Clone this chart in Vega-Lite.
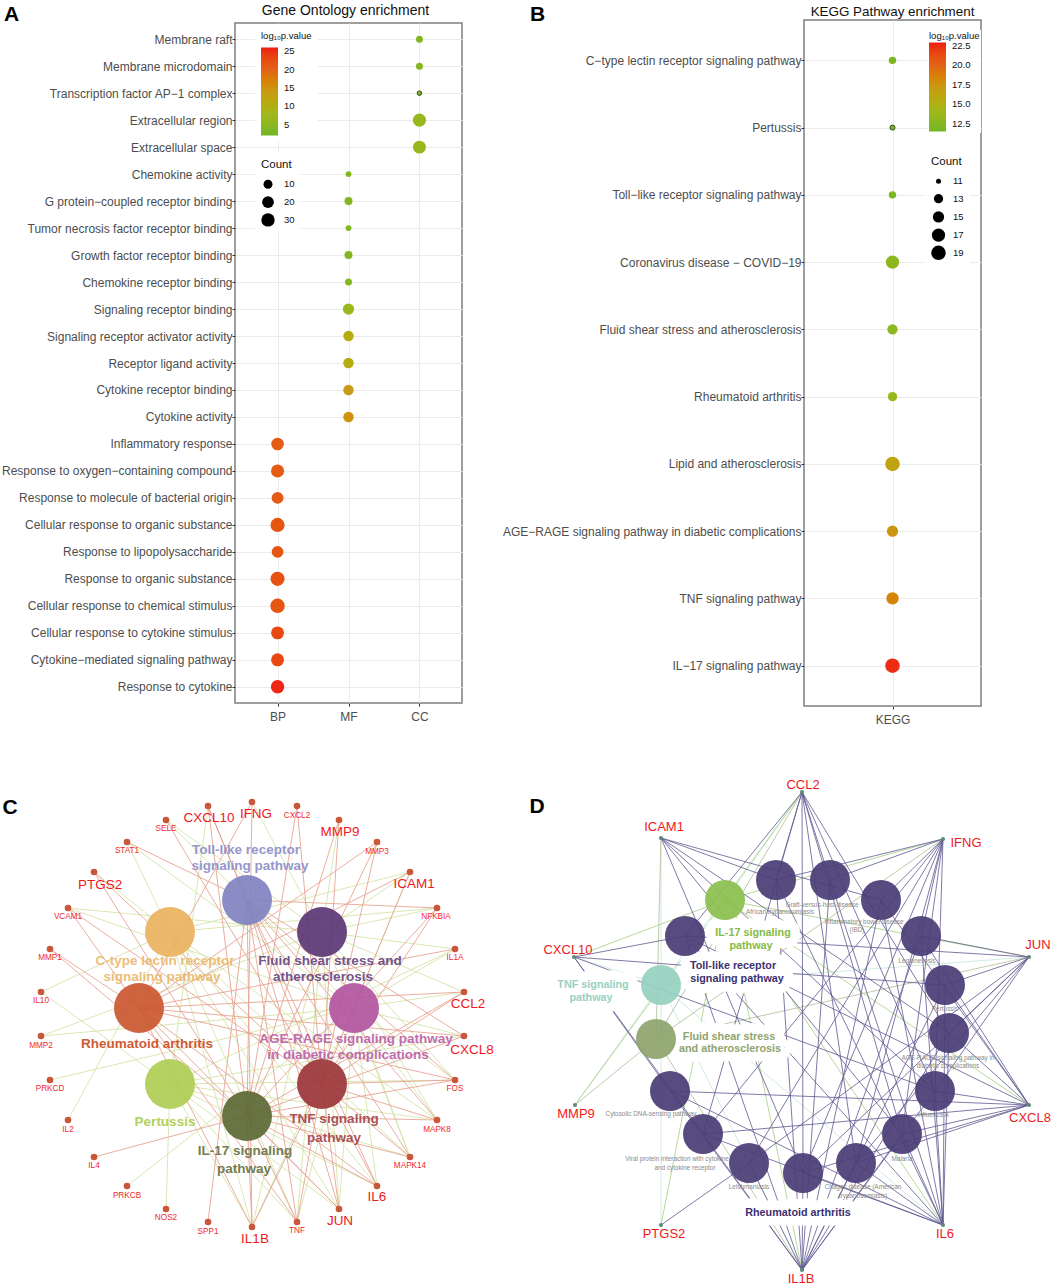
{
"$schema":"https://vega.github.io/schema/vega-lite/v6.json",
"padding":0,
"background":"white",
"spacing":46,
"align":"none",
"resolve":{"scale":{"color":"independent","size":"independent"},"legend":{"color":"independent","size":"independent"}},
"config":{"font":"Liberation Sans","legend":{"labelFont":"Liberation Sans","titleFont":"Liberation Sans"}},
"datasets":{
"go":[
{"t":"Membrane raft","c":"CC","n":8,"p":4},
{"t":"Membrane microdomain","c":"CC","n":8,"p":4},
{"t":"Transcription factor AP−1 complex","c":"CC","n":6,"p":3.5},
{"t":"Extracellular region","c":"CC","n":28,"p":6.5},
{"t":"Extracellular space","c":"CC","n":27,"p":6.5},
{"t":"Chemokine activity","c":"MF","n":7,"p":4},
{"t":"G protein−coupled receptor binding","c":"MF","n":9,"p":4},
{"t":"Tumor necrosis factor receptor binding","c":"MF","n":7,"p":4},
{"t":"Growth factor receptor binding","c":"MF","n":9,"p":4},
{"t":"Chemokine receptor binding","c":"MF","n":8,"p":4},
{"t":"Signaling receptor binding","c":"MF","n":18,"p":7},
{"t":"Signaling receptor activator activity","c":"MF","n":15,"p":10.5},
{"t":"Receptor ligand activity","c":"MF","n":15,"p":10.5},
{"t":"Cytokine receptor binding","c":"MF","n":15,"p":14},
{"t":"Cytokine activity","c":"MF","n":15,"p":15},
{"t":"Inflammatory response","c":"BP","n":25,"p":21},
{"t":"Response to oxygen−containing compound","c":"BP","n":28,"p":21},
{"t":"Response to molecule of bacterial origin","c":"BP","n":21,"p":21},
{"t":"Cellular response to organic substance","c":"BP","n":32,"p":21.5},
{"t":"Response to lipopolysaccharide","c":"BP","n":20,"p":21.5},
{"t":"Response to organic substance","c":"BP","n":32,"p":22},
{"t":"Cellular response to chemical stimulus","c":"BP","n":33,"p":21.5},
{"t":"Cellular response to cytokine stimulus","c":"BP","n":27,"p":23},
{"t":"Cytokine−mediated signaling pathway","c":"BP","n":27,"p":23},
{"t":"Response to cytokine","c":"BP","n":30,"p":25.5}
],
"kegg":[
{"t":"C−type lectin receptor signaling pathway","c":"KEGG","n":12,"p":12},
{"t":"Pertussis","c":"KEGG","n":11,"p":12},
{"t":"Toll−like receptor signaling pathway","c":"KEGG","n":12,"p":12},
{"t":"Coronavirus disease − COVID−19","c":"KEGG","n":17,"p":13},
{"t":"Fluid shear stress and atherosclerosis","c":"KEGG","n":14,"p":13},
{"t":"Rheumatoid arthritis","c":"KEGG","n":13,"p":13.5},
{"t":"Lipid and atherosclerosis","c":"KEGG","n":19,"p":16.5},
{"t":"AGE−RAGE signaling pathway in diabetic complications","c":"KEGG","n":15,"p":17.5},
{"t":"TNF signaling pathway","c":"KEGG","n":16,"p":18.5},
{"t":"IL−17 signaling pathway","c":"KEGG","n":19,"p":22.5}
],
"cGenes":[
{"k":"CXCL10","x":208,"y":804},{"k":"IFNG","x":252,"y":800},{"k":"CXCL2","x":297,"y":804},{"k":"MMP9","x":339,"y":818},{"k":"MMP3","x":377,"y":840},{"k":"ICAM1","x":410,"y":870},{"k":"NFKBIA","x":437,"y":906},{"k":"IL1A","x":455,"y":947},{"k":"CCL2","x":464,"y":990},{"k":"CXCL8","x":464,"y":1034},{"k":"FOS","x":455,"y":1078},{"k":"MAPK8","x":437,"y":1118},{"k":"MAPK14","x":410,"y":1155},{"k":"IL6","x":377,"y":1184},{"k":"JUN","x":339,"y":1207},{"k":"TNF","x":297,"y":1220},{"k":"IL1B","x":252,"y":1225},{"k":"SPP1","x":208,"y":1220},{"k":"NOS2","x":166,"y":1207},{"k":"PRKCB","x":127,"y":1184},{"k":"IL4","x":94,"y":1155},{"k":"IL2","x":68,"y":1118},{"k":"PRKCD","x":50,"y":1078},{"k":"MMP2","x":41,"y":1034},{"k":"IL10","x":41,"y":990},{"k":"MMP1","x":50,"y":947},{"k":"VCAM1","x":68,"y":906},{"k":"PTGS2","x":94,"y":870},{"k":"STAT1","x":127,"y":840},{"k":"SELE","x":166,"y":818}
],
"cPaths":[
{"k":"Toll","x":247,"y":898},{"k":"Fluid","x":322,"y":930},{"k":"AGE","x":354,"y":1006},{"k":"TNFp","x":322,"y":1082},{"k":"IL17","x":247,"y":1114},{"k":"Pert","x":170,"y":1082},{"k":"RA","x":139,"y":1006},{"k":"CType","x":170,"y":930}
],
"cLabels":[
{"s":"CXCL10","x":209,"y":816,"r":"big"},{"s":"IFNG","x":256,"y":812,"r":"big"},{"s":"CXCL2","x":297,"y":814,"r":"small"},{"s":"MMP9","x":340,"y":830,"r":"big"},{"s":"MMP3","x":377,"y":850,"r":"small"},{"s":"ICAM1","x":414,"y":882,"r":"big"},{"s":"NFKBIA","x":436,"y":915,"r":"small"},{"s":"IL1A","x":455,"y":956,"r":"small"},{"s":"CCL2","x":468,"y":1002,"r":"big"},{"s":"CXCL8","x":472,"y":1048,"r":"big"},{"s":"FOS","x":455,"y":1087,"r":"small"},{"s":"MAPK8","x":437,"y":1128,"r":"small"},{"s":"MAPK14","x":410,"y":1164,"r":"small"},{"s":"IL6","x":377,"y":1195,"r":"big"},{"s":"JUN","x":340,"y":1219,"r":"big"},{"s":"TNF","x":297,"y":1229,"r":"small"},{"s":"IL1B","x":255,"y":1237,"r":"big"},{"s":"SPP1","x":208,"y":1230,"r":"small"},{"s":"NOS2","x":166,"y":1216,"r":"small"},{"s":"PRKCB","x":127,"y":1194,"r":"small"},{"s":"IL4","x":94,"y":1164,"r":"small"},{"s":"IL2","x":68,"y":1128,"r":"small"},{"s":"PRKCD","x":50,"y":1087,"r":"small"},{"s":"MMP2","x":41,"y":1044,"r":"small"},{"s":"IL10","x":41,"y":999,"r":"small"},{"s":"MMP1","x":50,"y":956,"r":"small"},{"s":"VCAM1","x":68,"y":915,"r":"small"},{"s":"PTGS2","x":100,"y":883,"r":"big"},{"s":"STAT1","x":127,"y":849,"r":"small"},{"s":"SELE","x":166,"y":827,"r":"small"},
{"s":"C","x":10,"y":806,"r":"panel"},
{"s":"Toll-like receptor","x":246,"y":848,"r":"path","k":"Toll"},{"s":"signaling pathway","x":250,"y":864,"r":"path","k":"Toll"},
{"s":"Fluid shear stress and","x":330,"y":959,"r":"path","k":"Fluid"},{"s":"atherosclerosis","x":323,"y":975,"r":"path","k":"Fluid"},
{"s":"AGE-RAGE signaling pathway","x":356,"y":1037,"r":"path","k":"AGE"},{"s":"in diabetic complications","x":348,"y":1053,"r":"path","k":"AGE"},
{"s":"TNF signaling","x":334,"y":1117,"r":"path","k":"TNFp"},{"s":"pathway","x":334,"y":1136,"r":"path","k":"TNFp"},
{"s":"IL-17 signaling","x":245,"y":1149,"r":"path","k":"IL17"},{"s":"pathway","x":244,"y":1167,"r":"path","k":"IL17"},
{"s":"Pertussis","x":165,"y":1120,"r":"path","k":"Pert"},
{"s":"Rheumatoid arthritis","x":147,"y":1042,"r":"path","k":"RA"},
{"s":"C-type lectin receptor","x":165,"y":959,"r":"path","k":"CType"},{"s":"signaling pathway","x":162,"y":975,"r":"path","k":"CType"}
],
"cEdges":[
{"g":"CXCL10","p":"Pert"},{"g":"CXCL8","p":"Pert"},{"g":"IL10","p":"Pert"},{"g":"IL1A","p":"Pert"},{"g":"IL1B","p":"Pert"},{"g":"IL6","p":"Pert"},{"g":"JUN","p":"Pert"},{"g":"FOS","p":"Pert"},{"g":"MAPK14","p":"Pert"},{"g":"MAPK8","p":"Pert"},{"g":"NOS2","p":"Pert"},{"g":"TNF","p":"Pert"},
{"g":"IL2","p":"CType"},{"g":"IL10","p":"CType"},{"g":"IL6","p":"CType"},{"g":"IL1B","p":"CType"},{"g":"TNF","p":"CType"},{"g":"JUN","p":"CType"},{"g":"MAPK8","p":"CType"},{"g":"MAPK14","p":"CType"},{"g":"NFKBIA","p":"CType"},{"g":"PTGS2","p":"CType"},{"g":"STAT1","p":"CType"},{"g":"ICAM1","p":"CType"},
{"g":"CCL2","p":"Fluid"},{"g":"ICAM1","p":"Fluid"},{"g":"IL1A","p":"Fluid"},{"g":"IL1B","p":"Fluid"},{"g":"TNF","p":"Fluid"},{"g":"JUN","p":"Fluid"},{"g":"FOS","p":"Fluid"},{"g":"MMP2","p":"Fluid"},{"g":"MMP9","p":"Fluid"},{"g":"NFKBIA","p":"Fluid"},{"g":"SELE","p":"Fluid"},{"g":"VCAM1","p":"Fluid"},{"g":"IFNG","p":"Fluid"},{"g":"MAPK8","p":"Fluid"},{"g":"MAPK14","p":"Fluid"},
{"g":"CCL2","p":"AGE"},{"g":"CXCL8","p":"AGE"},{"g":"ICAM1","p":"AGE"},{"g":"IL1A","p":"AGE"},{"g":"IL1B","p":"AGE"},{"g":"IL6","p":"AGE"},{"g":"TNF","p":"AGE"},{"g":"JUN","p":"AGE"},{"g":"FOS","p":"AGE"},{"g":"MMP2","p":"AGE"},{"g":"VCAM1","p":"AGE"},{"g":"SELE","p":"AGE"},{"g":"STAT1","p":"AGE"},{"g":"PRKCD","p":"AGE"},{"g":"PRKCB","p":"AGE"},{"g":"MAPK8","p":"AGE"},{"g":"MAPK14","p":"AGE"},
{"g":"CXCL10","p":"Toll"},{"g":"CXCL8","p":"Toll"},{"g":"IL6","p":"Toll"},{"g":"IL1B","p":"Toll"},{"g":"TNF","p":"Toll"},{"g":"FOS","p":"Toll"},{"g":"JUN","p":"Toll"},{"g":"MAPK8","p":"Toll"},{"g":"MAPK14","p":"Toll"},{"g":"NFKBIA","p":"Toll"},{"g":"STAT1","p":"Toll"},{"g":"SPP1","p":"Toll"},
{"g":"CCL2","p":"RA"},{"g":"CXCL8","p":"RA"},{"g":"ICAM1","p":"RA"},{"g":"IL1A","p":"RA"},{"g":"IL1B","p":"RA"},{"g":"IL6","p":"RA"},{"g":"TNF","p":"RA"},{"g":"JUN","p":"RA"},{"g":"FOS","p":"RA"},{"g":"MMP1","p":"RA"},{"g":"MMP3","p":"RA"},{"g":"VCAM1","p":"RA"},{"g":"IFNG","p":"RA"},
{"g":"CCL2","p":"TNFp"},{"g":"CXCL10","p":"TNFp"},{"g":"CXCL2","p":"TNFp"},{"g":"FOS","p":"TNFp"},{"g":"ICAM1","p":"TNFp"},{"g":"IL1B","p":"TNFp"},{"g":"IL6","p":"TNFp"},{"g":"JUN","p":"TNFp"},{"g":"MAPK14","p":"TNFp"},{"g":"MAPK8","p":"TNFp"},{"g":"MMP3","p":"TNFp"},{"g":"MMP9","p":"TNFp"},{"g":"NFKBIA","p":"TNFp"},{"g":"PTGS2","p":"TNFp"},{"g":"SELE","p":"TNFp"},{"g":"TNF","p":"TNFp"},{"g":"VCAM1","p":"TNFp"},
{"g":"CCL2","p":"IL17"},{"g":"CXCL10","p":"IL17"},{"g":"CXCL2","p":"IL17"},{"g":"CXCL8","p":"IL17"},{"g":"FOS","p":"IL17"},{"g":"IFNG","p":"IL17"},{"g":"IL1B","p":"IL17"},{"g":"IL4","p":"IL17"},{"g":"IL6","p":"IL17"},{"g":"JUN","p":"IL17"},{"g":"MAPK14","p":"IL17"},{"g":"MAPK8","p":"IL17"},{"g":"MMP1","p":"IL17"},{"g":"MMP3","p":"IL17"},{"g":"MMP9","p":"IL17"},{"g":"NFKBIA","p":"IL17"},{"g":"PTGS2","p":"IL17"},{"g":"TNF","p":"IL17"}
],
"dGenes":[
{"k":"CCL2","x":802,"y":790},{"k":"ICAM1","x":661,"y":836},{"k":"IFNG","x":943,"y":837},{"k":"CXCL10","x":574,"y":955},{"k":"JUN","x":1029,"y":955},{"k":"MMP9","x":575,"y":1103},{"k":"CXCL8","x":1029,"y":1103},{"k":"PTGS2","x":661,"y":1223},{"k":"IL6","x":943,"y":1223},{"k":"IL1B","x":802,"y":1268}
],
"dPaths":[
{"k":"African","x":776,"y":878},{"k":"Graft","x":830,"y":878},{"k":"IBD","x":881,"y":898},{"k":"Legion","x":921,"y":934},{"k":"Pert","x":945,"y":983},{"k":"AGE","x":949,"y":1031},{"k":"Flu","x":935,"y":1089},{"k":"Malaria","x":902,"y":1132},{"k":"Chagas","x":856,"y":1161},{"k":"RA","x":803,"y":1171},{"k":"Leish","x":749,"y":1161},{"k":"Viral","x":703,"y":1132},{"k":"Cyto","x":670,"y":1089},{"k":"Fluid","x":656,"y":1037},{"k":"TNFp","x":661,"y":983},{"k":"Toll","x":685,"y":934},{"k":"IL17","x":725,"y":898}
],
"dLabels":[
{"s":"CCL2","x":803,"y":783,"r":"big"},{"s":"ICAM1","x":664,"y":825,"r":"big"},{"s":"IFNG","x":966,"y":841,"r":"big"},{"s":"CXCL10","x":568,"y":948,"r":"big"},{"s":"JUN","x":1038,"y":943,"r":"big"},{"s":"MMP9","x":576,"y":1112,"r":"big"},{"s":"CXCL8","x":1030,"y":1116,"r":"big"},{"s":"PTGS2","x":664,"y":1232,"r":"big"},{"s":"IL6","x":945,"y":1232,"r":"big"},{"s":"IL1B","x":801,"y":1277,"r":"big"},
{"s":"D","x":537,"y":805,"r":"panel"},
{"s":"African trypanosomiasis","x":780,"y":910,"r":"grey"},
{"s":"Graft-versus-host disease","x":822,"y":903,"r":"grey"},
{"s":"Inflammatory bowel disease","x":864,"y":920,"r":"grey"},{"s":"(IBD)","x":857,"y":928,"r":"grey"},
{"s":"Legionellosis","x":917,"y":959,"r":"grey"},
{"s":"Pertussis","x":945,"y":1007,"r":"grey"},
{"s":"AGE-RAGE signaling pathway in","x":948,"y":1056,"r":"grey"},{"s":"diabetic complications","x":948,"y":1064,"r":"grey"},
{"s":"Influenza A","x":933,"y":1113,"r":"grey"},
{"s":"Malaria","x":902,"y":1157,"r":"grey"},
{"s":"Chagas disease (American","x":863,"y":1185,"r":"grey"},{"s":"trypanosomiasis)","x":863,"y":1194,"r":"grey"},
{"s":"Leishmaniasis","x":749,"y":1185,"r":"grey"},
{"s":"Viral protein interaction with cytokine","x":677,"y":1157,"r":"grey"},{"s":"and cytokine receptor","x":685,"y":1166,"r":"grey"},
{"s":"Cytosolic DNA-sensing pathway","x":651,"y":1112,"r":"grey"},
{"s":"Rheumatoid arthritis","x":798,"y":1211,"r":"path","k":"RA"},
{"s":"Fluid shear stress","x":729,"y":1035,"r":"path","k":"Fluid"},{"s":"and atherosclerosis","x":730,"y":1047,"r":"path","k":"Fluid"},
{"s":"TNF signaling","x":593,"y":983,"r":"path","k":"TNFp"},{"s":"pathway","x":591,"y":996,"r":"path","k":"TNFp"},
{"s":"Toll-like receptor","x":733,"y":964,"r":"path","k":"Toll"},{"s":"signaling pathway","x":737,"y":977,"r":"path","k":"Toll"},
{"s":"IL-17 signaling","x":753,"y":931,"r":"path","k":"IL17"},{"s":"pathway","x":751,"y":944,"r":"path","k":"IL17"}
],
"dEdges":[
{"g":"ICAM1","p":"TNFp"},{"g":"CCL2","p":"TNFp"},{"g":"CXCL10","p":"TNFp"},{"g":"IL1B","p":"TNFp"},{"g":"IL6","p":"TNFp"},{"g":"JUN","p":"TNFp"},{"g":"MMP9","p":"TNFp"},{"g":"PTGS2","p":"TNFp"},
{"g":"CCL2","p":"Fluid"},{"g":"ICAM1","p":"Fluid"},{"g":"IFNG","p":"Fluid"},{"g":"IL1B","p":"Fluid"},{"g":"JUN","p":"Fluid"},{"g":"MMP9","p":"Fluid"},
{"g":"CCL2","p":"IL17"},{"g":"CXCL10","p":"IL17"},{"g":"CXCL8","p":"IL17"},{"g":"IFNG","p":"IL17"},{"g":"IL1B","p":"IL17"},{"g":"IL6","p":"IL17"},{"g":"JUN","p":"IL17"},{"g":"MMP9","p":"IL17"},{"g":"PTGS2","p":"IL17"},
{"g":"CXCL10","p":"Toll"},{"g":"CXCL8","p":"Toll"},{"g":"IL1B","p":"Toll"},{"g":"IL6","p":"Toll"},{"g":"JUN","p":"Toll"},{"g":"CCL2","p":"Toll"},
{"g":"ICAM1","p":"African"},{"g":"IFNG","p":"African"},{"g":"IL1B","p":"African"},{"g":"IL6","p":"African"},{"g":"CCL2","p":"African"},
{"g":"IFNG","p":"Graft"},{"g":"IL1B","p":"Graft"},{"g":"IL6","p":"Graft"},{"g":"CCL2","p":"Graft"},
{"g":"IFNG","p":"IBD"},{"g":"IL1B","p":"IBD"},{"g":"IL6","p":"IBD"},{"g":"CXCL8","p":"IBD"},{"g":"ICAM1","p":"IBD"},
{"g":"CXCL8","p":"Legion"},{"g":"IL1B","p":"Legion"},{"g":"IL6","p":"Legion"},{"g":"JUN","p":"Legion"},{"g":"IFNG","p":"Legion"},
{"g":"IL1B","p":"Pert"},{"g":"IL6","p":"Pert"},{"g":"CXCL8","p":"Pert"},{"g":"JUN","p":"Pert"},{"g":"CXCL10","p":"Pert"},
{"g":"CCL2","p":"AGE"},{"g":"CXCL8","p":"AGE"},{"g":"ICAM1","p":"AGE"},{"g":"IL1B","p":"AGE"},{"g":"IL6","p":"AGE"},{"g":"JUN","p":"AGE"},
{"g":"CCL2","p":"Flu"},{"g":"CXCL10","p":"Flu"},{"g":"CXCL8","p":"Flu"},{"g":"ICAM1","p":"Flu"},{"g":"IFNG","p":"Flu"},{"g":"IL1B","p":"Flu"},{"g":"IL6","p":"Flu"},{"g":"JUN","p":"Flu"},
{"g":"CCL2","p":"Malaria"},{"g":"CXCL8","p":"Malaria"},{"g":"ICAM1","p":"Malaria"},{"g":"IFNG","p":"Malaria"},{"g":"IL1B","p":"Malaria"},{"g":"IL6","p":"Malaria"},
{"g":"CCL2","p":"Chagas"},{"g":"CXCL8","p":"Chagas"},{"g":"IFNG","p":"Chagas"},{"g":"IL1B","p":"Chagas"},{"g":"IL6","p":"Chagas"},{"g":"JUN","p":"Chagas"},
{"g":"CCL2","p":"RA"},{"g":"CXCL8","p":"RA"},{"g":"ICAM1","p":"RA"},{"g":"IFNG","p":"RA"},{"g":"IL1B","p":"RA"},{"g":"IL6","p":"RA"},{"g":"JUN","p":"RA"},
{"g":"IFNG","p":"Leish"},{"g":"IL1B","p":"Leish"},{"g":"JUN","p":"Leish"},{"g":"PTGS2","p":"Leish"},
{"g":"CCL2","p":"Viral"},{"g":"CXCL10","p":"Viral"},{"g":"CXCL8","p":"Viral"},{"g":"IFNG","p":"Viral"},{"g":"IL1B","p":"Viral"},{"g":"IL6","p":"Viral"},
{"g":"CXCL10","p":"Cyto"},{"g":"CXCL8","p":"Cyto"},{"g":"IL1B","p":"Cyto"},{"g":"IL6","p":"Cyto"}
]
},
"vconcat":[
{"spacing":0,"align":"none",
"resolve":{"scale":{"color":"independent","size":"independent"},"legend":{"color":"independent","size":"independent"}},
"hconcat":[
{"spacing":0,"vconcat":[
{"width":10,"height":1,"data":{"values":[{"a":1}]},"view":{"stroke":null},"mark":{"type":"rule","opacity":0},"encoding":{}},
{"width":227,"height":680,"data":{"name":"go"},
"title":{"text":"Gene Ontology enrichment","fontSize":14,"fontWeight":"normal","font":"Liberation Sans","color":"#111","offset":-15,"dx":-3},
"view":{"stroke":"#7f7f7f","strokeWidth":1.5},
"mark":{"type":"circle","opacity":1,"strokeWidth":1},
"encoding":{
"x":{"field":"c","type":"nominal","scale":{"type":"point","padding":0.6,"domain":["BP","MF","CC"]},"axis":{"title":null,"labelAngle":0,"labelFontSize":12,"labelColor":"#4d4d4d","tickSize":3,"tickColor":"#333","labelPadding":5,"grid":true,"gridColor":"#ebebeb","domain":false}},
"y":{"field":"t","type":"nominal","sort":null,"scale":{"type":"point","padding":0.6},"axis":{"title":"A","titleX":-224,"titleY":-3,"titleBaseline":"alphabetic","titleAngle":0,"titleFontSize":21,"titleFontWeight":"bold","titleColor":"#000","labelFontSize":12,"labelColor":"#4d4d4d","labelLimit":300,"tickSize":3,"tickColor":"#333","labelPadding":0,"grid":true,"gridColor":"#ebebeb","domain":false,"minExtent":234,"maxExtent":234}},
"color":{"field":"p","type":"quantitative","scale":{"domain":[2,8,14,20,26],"range":["#72b626","#a3b81c","#c99a16","#e36217","#ee1c14"]},"legend":{"orient":"none","legendX":20,"legendY":24,"title":"log₁₀p.value","titleFontSize":9.5,"titleFontWeight":"normal","titleColor":"#111","titlePadding":7,"gradientLength":88,"gradientThickness":17,"values":[5,10,15,20,25],"labelFontSize":9.5,"labelColor":"#111","labelOffset":6,"fillColor":"white","padding":6}},
"size":{"field":"n","type":"quantitative","scale":{"domain":[6,8,10,20,30,35],"range":[20,49,81,137,180,230]},"legend":{"orient":"none","legendX":20,"legendY":152,"title":"Count","titleFontSize":11.5,"titleFontWeight":"normal","titleColor":"#111","titlePadding":9,"values":[10,20,30],"symbolFillColor":"#000","symbolStrokeColor":"transparent","symbolStrokeWidth":0,"symbolOpacity":1,"labelFontSize":9.5,"labelColor":"#111","labelOffset":9,"rowPadding":2.7,"gridAlign":"all","fillColor":"white","padding":6}},
"stroke":{"condition":{"test":"datum.n==6","value":"#2f4f12"},"value":"transparent"}
}}
]},
{"spacing":0,"vconcat":[
{"width":10,"height":1,"data":{"values":[{"a":1}]},"view":{"stroke":null},"mark":{"type":"rule","opacity":0},"encoding":{}},
{"width":177,"height":686,"data":{"name":"kegg"},
"title":{"text":"KEGG Pathway enrichment","fontSize":13.4,"fontWeight":"normal","font":"Liberation Sans","color":"#111","offset":-15.6},
"view":{"stroke":"#7f7f7f","strokeWidth":1.5},
"mark":{"type":"circle","opacity":1,"strokeWidth":1},
"encoding":{
"x":{"field":"c","type":"nominal","scale":{"type":"point","padding":0.6},"axis":{"title":null,"labelAngle":0,"labelFontSize":12,"labelColor":"#4d4d4d","tickSize":3,"tickColor":"#333","labelPadding":5,"grid":true,"gridColor":"#ebebeb","domain":false}},
"y":{"field":"t","type":"nominal","sort":null,"scale":{"type":"point","padding":0.6},"axis":{"title":"B","titleX":-267,"titleY":0,"titleBaseline":"alphabetic","titleAngle":0,"titleFontSize":21,"titleFontWeight":"bold","titleColor":"#000","labelFontSize":12,"labelColor":"#4d4d4d","labelLimit":320,"tickSize":3,"tickColor":"#333","labelPadding":0,"grid":true,"gridColor":"#ebebeb","domain":false,"minExtent":340,"maxExtent":340}},
"color":{"field":"p","type":"quantitative","scale":{"domain":[11.5,14.3,17.2,20,22.9],"range":["#72b626","#a3b81c","#c99a16","#e36217","#ee1c14"]},"legend":{"orient":"none","legendX":124,"legendY":29,"title":"log₁₀p.value","titleFontSize":9.5,"titleFontWeight":"normal","titleColor":"#111","titlePadding":2,"gradientLength":89,"gradientThickness":17,"values":[12.5,15,17.5,20,22.5],"format":".1f","labelFontSize":9.5,"labelColor":"#111","labelOffset":6,"fillColor":"white","padding":1}},
"size":{"field":"n","type":"quantitative","scale":{"domain":[11,13,15,17,19],"range":[25,86,128,177,210]},"legend":{"orient":"none","legendX":121,"legendY":149,"title":"Count","titleFontSize":11.5,"titleFontWeight":"normal","titleColor":"#111","titlePadding":9,"values":[11,13,15,17,19],"symbolFillColor":"#000","symbolStrokeColor":"transparent","symbolStrokeWidth":0,"symbolOpacity":1,"labelFontSize":9.5,"labelColor":"#111","labelOffset":7,"rowPadding":2.2,"gridAlign":"all","fillColor":"white","padding":6}},
"stroke":{"condition":{"test":"datum.t=='Pertussis'","value":"#2f4f12"},"value":"transparent"}
}}
]}
]},
{"spacing":0,"align":"none",
"resolve":{"scale":{"color":"independent","size":"independent"}},
"hconcat":[
{"width":266,"height":514,"view":{"stroke":null},
"resolve":{"scale":{"color":"independent"}},
"layer":[
{"data":{"name":"cEdges"},
"transform":[{"lookup":"g","from":{"data":{"name":"cGenes"},"key":"k","fields":["x","y"]}},{"lookup":"p","from":{"data":{"name":"cPaths"},"key":"k","fields":["x","y"]},"as":["px","py"]}],
"mark":{"type":"rule","strokeWidth":1,"opacity":0.85},
"encoding":{
"x":{"field":"x","type":"quantitative","scale":{"domain":[235,501],"nice":false,"zero":false},"axis":null},
"y":{"field":"y","type":"quantitative","scale":{"domain":[1284,770],"nice":false,"zero":false},"axis":null},
"x2":{"field":"px"},"y2":{"field":"py"},
"color":{"field":"p","type":"nominal","legend":null,"scale":{"domain":["Toll","RA","TNFp","IL17","CType","Pert","Fluid","AGE"],"range":["#e6a08e","#e6a08e","#e6a08e","#e6a08e","#d3e3a6","#d3e3a6","#d3e3a6","#d3e3a6"]}}
}},
{"data":{"name":"cPaths"},
"mark":{"type":"circle","size":2500,"opacity":0.92},
"encoding":{
"x":{"field":"x","type":"quantitative"},"y":{"field":"y","type":"quantitative"},
"color":{"field":"k","type":"nominal","legend":null,"scale":{"domain":["Toll","Fluid","AGE","TNFp","IL17","Pert","RA","CType"],"range":["#7f82c0","#5b3675","#b2559f","#9c3639","#5c6934","#afcd55","#ca5730","#e9b25f"]}}
}},
{"data":{"name":"cGenes"},
"mark":{"type":"circle","size":44,"opacity":1,"color":"#c9583a"},
"encoding":{"x":{"field":"x","type":"quantitative"},"y":{"field":"y","type":"quantitative"}}},
{"data":{"name":"cLabels"},"transform":[{"filter":"datum.r=='big'"}],
"mark":{"type":"text","fontSize":13.5,"color":"#f0181c"},
"encoding":{"x":{"field":"x","type":"quantitative"},"y":{"field":"y","type":"quantitative"},"text":{"field":"s"}}},
{"data":{"name":"cLabels"},"transform":[{"filter":"datum.r=='small'"}],
"mark":{"type":"text","fontSize":8.2,"color":"#f0282c"},
"encoding":{"x":{"field":"x","type":"quantitative"},"y":{"field":"y","type":"quantitative"},"text":{"field":"s"}}},
{"data":{"name":"cLabels"},"transform":[{"filter":"datum.r=='panel'"}],
"mark":{"type":"text","fontSize":21,"fontWeight":"bold","color":"#000"},
"encoding":{"x":{"field":"x","type":"quantitative"},"y":{"field":"y","type":"quantitative"},"text":{"field":"s"}}},
{"data":{"name":"cLabels"},"transform":[{"filter":"datum.r=='path'"}],
"mark":{"type":"text","fontSize":13.5,"fontWeight":"bold","opacity":0.9},
"encoding":{"x":{"field":"x","type":"quantitative"},"y":{"field":"y","type":"quantitative"},"text":{"field":"s"},
"color":{"field":"k","type":"nominal","legend":null,"scale":{"domain":["Toll","Fluid","AGE","TNFp","IL17","Pert","RA","CType"],"range":["#8a8dc8","#65447f","#b95fa8","#a3444a","#66703f","#a9cc4c","#cc4a1c","#ebb86a"]}}
}}
]},
{"width":551,"height":514,"view":{"stroke":null},
"resolve":{"scale":{"color":"independent"}},
"layer":[
{"data":{"name":"dEdges"},
"transform":[{"lookup":"g","from":{"data":{"name":"dGenes"},"key":"k","fields":["x","y"]}},{"lookup":"p","from":{"data":{"name":"dPaths"},"key":"k","fields":["x","y"]},"as":["px","py"]}],
"mark":{"type":"rule","strokeWidth":0.8},
"encoding":{
"x":{"field":"x","type":"quantitative","scale":{"domain":[501,1052],"nice":false,"zero":false},"axis":null},
"y":{"field":"y","type":"quantitative","scale":{"domain":[1284,770],"nice":false,"zero":false},"axis":null},
"x2":{"field":"px"},"y2":{"field":"py"},
"color":{"field":"p","type":"nominal","legend":null,"scale":{"domain":["IL17","TNFp","Fluid","African","Graft","IBD","Legion","Pert","AGE","Flu","Malaria","Chagas","RA","Leish","Viral","Cyto","Toll"],"range":["#a4cf80","#c4e4da","#adbd96","#5f5890","#5f5890","#5f5890","#5f5890","#5f5890","#5f5890","#5f5890","#5f5890","#5f5890","#5f5890","#5f5890","#5f5890","#5f5890","#5f5890"]}}
}},
{"data":{"name":"dLabels"},"transform":[{"filter":"datum.r=='path'"}],
"mark":{"type":"text","fontSize":10.8,"fontWeight":"bold","color":"white","stroke":"white","strokeWidth":19,"strokeJoin":"round"},
"encoding":{"x":{"field":"x","type":"quantitative"},"y":{"field":"y","type":"quantitative"},"text":{"field":"s"}}},
{"data":{"name":"dPaths"},
"mark":{"type":"circle","size":1600,"opacity":0.93},
"encoding":{"x":{"field":"x","type":"quantitative"},"y":{"field":"y","type":"quantitative"},
"color":{"field":"k","type":"nominal","legend":null,"scale":{"domain":["IL17","TNFp","Fluid","African","Graft","IBD","Legion","Pert","AGE","Flu","Malaria","Chagas","RA","Leish","Viral","Cyto","Toll"],"range":["#8cbf50","#97d1bf","#8ea56e","#4a3d76","#4a3d76","#4a3d76","#4a3d76","#4a3d76","#4a3d76","#4a3d76","#4a3d76","#4a3d76","#4a3d76","#4a3d76","#4a3d76","#4a3d76","#4a3d76"]}}
}},
{"data":{"name":"dGenes"},
"mark":{"type":"circle","size":18,"opacity":1,"color":"#5f8a78"},
"encoding":{"x":{"field":"x","type":"quantitative"},"y":{"field":"y","type":"quantitative"}}},
{"data":{"name":"dLabels"},"transform":[{"filter":"datum.r=='big'"}],
"mark":{"type":"text","fontSize":13,"color":"#f0181c"},
"encoding":{"x":{"field":"x","type":"quantitative"},"y":{"field":"y","type":"quantitative"},"text":{"field":"s"}}},
{"data":{"name":"dLabels"},"transform":[{"filter":"datum.r=='grey'"}],
"mark":{"type":"text","fontSize":6.4,"color":"#8a8a8a"},
"encoding":{"x":{"field":"x","type":"quantitative"},"y":{"field":"y","type":"quantitative"},"text":{"field":"s"}}},
{"data":{"name":"dLabels"},"transform":[{"filter":"datum.r=='panel'"}],
"mark":{"type":"text","fontSize":21,"fontWeight":"bold","color":"#000"},
"encoding":{"x":{"field":"x","type":"quantitative"},"y":{"field":"y","type":"quantitative"},"text":{"field":"s"}}},
{"data":{"name":"dLabels"},"transform":[{"filter":"datum.r=='path'"}],
"mark":{"type":"text","fontSize":10.8,"fontWeight":"bold"},
"encoding":{"x":{"field":"x","type":"quantitative"},"y":{"field":"y","type":"quantitative"},"text":{"field":"s"},
"color":{"field":"k","type":"nominal","legend":null,"scale":{"domain":["IL17","TNFp","Fluid","Toll","RA"],"range":["#84bb48","#97d1bf","#8ea56e","#3d3070","#3d3070"]}}
}}
]}
]}
]
}
